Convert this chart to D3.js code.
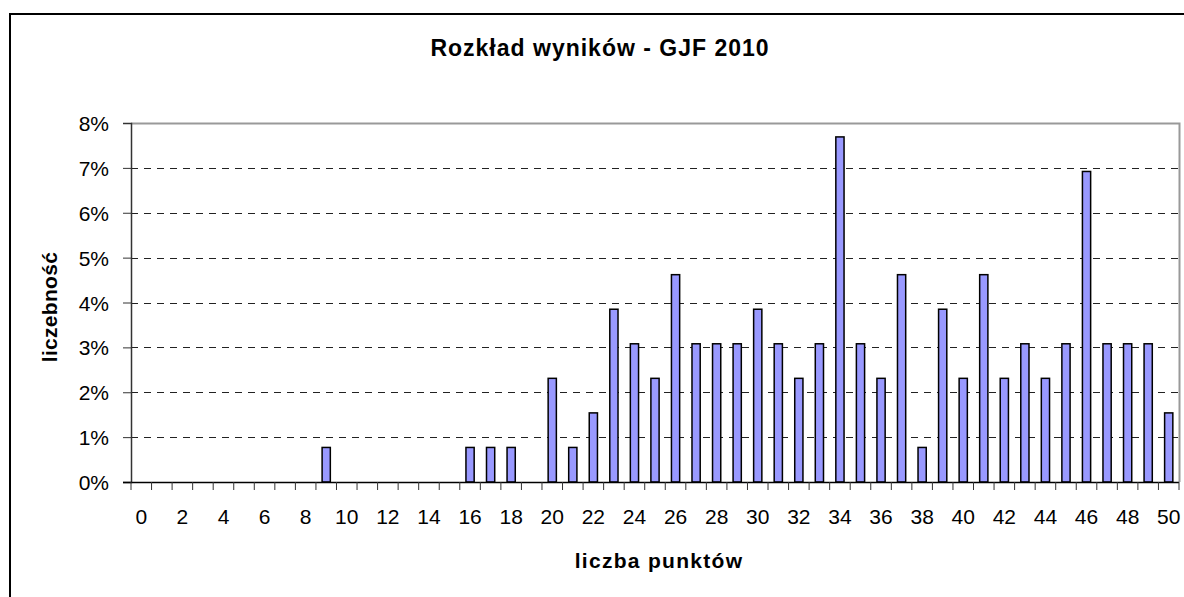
<!DOCTYPE html>
<html>
<head>
<meta charset="utf-8">
<style>
    body {
        margin: 0;
        background: #fff;
        font-family: Arial, "Liberation Sans", Helvetica, sans-serif;
    }
    svg {
        display: block;
    }
    .title {
        font-size: 23px;
        font-weight: bold;
        text-anchor: middle;
        letter-spacing: 1px;
    }
    .axis-title {
        font-size: 21px;
        font-weight: bold;
        text-anchor: middle;
        letter-spacing: 1.3px;
    }
    .tick text {
        font-size: 21px;
        fill: #000;
    }
    .bar {
        fill: #9999ff;
        stroke: #000;
        stroke-width: 1.5;
    }
    .grid line {
        stroke: #222;
        stroke-dasharray: 7,6;
    }
</style>
</head>
<body>
<script src="https://cdn.jsdelivr.net/npm/d3@7"></script>
<script>

    var categories = [0, 1, 2, 3, 4, 5, 6, 7, 8, 9, 10, 11, 12, 13, 14, 15, 16, 17, 18, 19, 20,
        21, 22, 23, 24, 25, 26, 27, 28, 29, 30, 31, 32, 33, 34, 35, 36, 37, 38, 39, 40,
        41, 42, 43, 44, 45, 46, 47, 48, 49, 50];

    // percent of students for each score
    var values = [0, 0, 0, 0, 0, 0, 0, 0, 0, 0.77, 0, 0, 0, 0, 0, 0, 0.77, 0.77, 0.77, 0, 2.31,
        0.77, 1.54, 3.85, 3.08, 2.31, 4.62, 3.08, 3.08, 3.08, 3.85, 3.08, 2.31, 3.08, 7.69, 3.08, 2.31, 4.62, 0.77, 3.85, 2.31,
        4.62, 2.31, 3.08, 2.31, 3.08, 6.92, 3.08, 3.08, 3.08, 1.54];

    var yTicks = [0, 1, 2, 3, 4, 5, 6, 7, 8];
    var xLabels = [0, 2, 4, 6, 8, 10, 12, 14, 16, 18, 20, 22, 24, 26, 28, 30, 32, 34, 36, 38, 40,
        42, 44, 46, 48, 50];

    var width = 1184,
        height = 597,
        plotLeft = 131,
        plotRight = 1179,
        plotTop = 123,
        plotBottom = 482;

    var data = categories.map(function(c, i) { return {cat: c, value: values[i]}; });

    var svg = d3.select("body").append("svg")
        .attr("width", width)
        .attr("height", height);

    // outer chart border
    svg.append("rect")
        .attr("x", 10)
        .attr("y", 14)
        .attr("width", 1200)
        .attr("height", 620)
        .attr("fill", "none")
        .attr("stroke", "#000")
        .attr("stroke-width", 2);

    var x = d3.scaleBand()
        .domain(categories)
        .range([plotLeft, plotRight])
        .padding(0);

    var y = d3.scaleLinear()
        .domain([0, 8])
        .range([plotBottom, plotTop]);

    svg.append("text")
        .attr("class", "title")
        .attr("x", 600)
        .attr("y", 56)
        .text("Rozkład wyników - GJF 2010");

    // dashed gridlines (not at 0 and 8)
    svg.append("g")
        .attr("class", "grid")
        .selectAll("line")
        .data(yTicks.filter(function(d) { return d > 0 && d < 8; }))
      .enter().append("line")
        .attr("x1", plotLeft)
        .attr("x2", plotRight)
        .attr("y1", function(d) { return Math.round(y(d)) + 0.5; })
        .attr("y2", function(d) { return Math.round(y(d)) + 0.5; });

    // plot area frame (top + right)
    svg.append("path")
        .attr("d", "M" + plotLeft + "," + (plotTop + 0.5) + "H" + (plotRight + 0.5) + "V" + plotBottom)
        .attr("fill", "none")
        .attr("stroke", "#999")
        .attr("stroke-width", 2);

    svg.append("g")
        .selectAll("rect")
        .data(data.filter(function(d) { return d.value > 0; }))
      .enter().append("rect")
        .attr("class", "bar")
        .attr("x", function(d) { return x(d.cat) + x.bandwidth() * 0.3; })
        .attr("width", x.bandwidth() * 0.4)
        .attr("y", function(d) { return y(d.value); })
        .attr("height", function(d) { return y(0) - y(d.value); });

    // y axis
    var yAxis = svg.append("g")
        .attr("transform", "translate(" + plotLeft + ",0)")
        .call(d3.axisLeft(y)
            .tickValues(yTicks)
            .tickSize(8)
            .tickPadding(14)
            .tickFormat(function(d) { return d + "%"; }));
    yAxis.select(".domain").attr("stroke", "#333").attr("stroke-width", 1.5);
    yAxis.selectAll(".tick line").attr("stroke", "#333");
    yAxis.selectAll(".tick text").attr("dy", "0.36em");

    // x axis: labels centred under every other category
    var xAxis = svg.append("g")
        .attr("transform", "translate(0," + plotBottom + ")")
        .call(d3.axisBottom(x)
            .tickValues(xLabels)
            .tickSize(0)
            .tickPadding(27));
    xAxis.select(".domain").remove();

    svg.append("line")
        .attr("x1", plotLeft - 8)
        .attr("x2", plotRight)
        .attr("y1", plotBottom + 0.5)
        .attr("y2", plotBottom + 0.5)
        .attr("stroke", "#000")
        .attr("stroke-width", 1.5);

    // tick marks between categories
    svg.append("g")
        .selectAll("line")
        .data(categories.concat([null]))
      .enter().append("line")
        .attr("x1", function(d) { return d === null ? plotRight : x(d); })
        .attr("x2", function(d) { return d === null ? plotRight : x(d); })
        .attr("y1", plotBottom)
        .attr("y2", plotBottom + 8)
        .attr("stroke", "#333");

    svg.append("text")
        .attr("class", "axis-title")
        .attr("x", 659)
        .attr("y", 568)
        .text("liczba punktów");

    svg.append("text")
        .attr("class", "axis-title")
        .style("letter-spacing", "0.3px")
        .attr("transform", "translate(57,307) rotate(-90)")
        .text("liczebność");

</script>
</body>
</html>
